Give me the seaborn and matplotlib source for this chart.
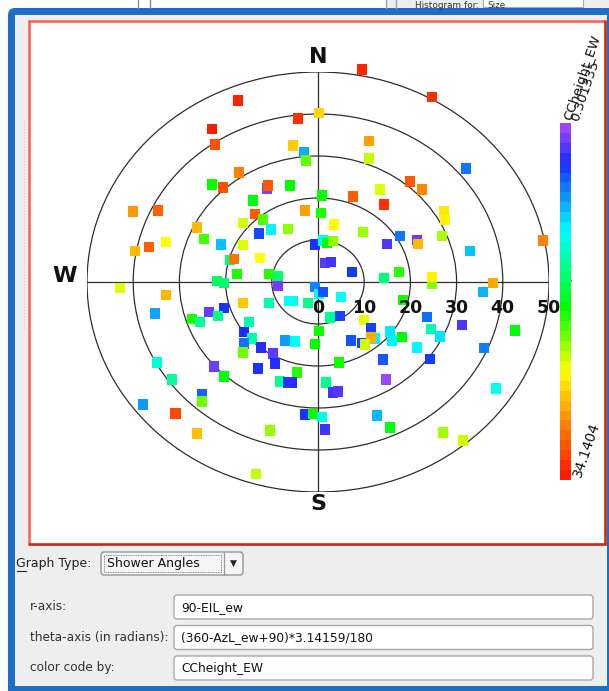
import numpy as np
import pandas as pd
import matplotlib
matplotlib.use("Agg")
import matplotlib.pyplot as plt
from matplotlib.colors import LinearSegmentedColormap, Normalize
from matplotlib.patches import Rectangle, FancyBboxPatch, Circle
from matplotlib.cm import ScalarMappable
import seaborn as sns

# Shower arrival directions: elevation, azimuth (deg) and core height
EIL_ew = [
    43.4, 47.0, 50.4, 58.8, 57.4, 59.5, 65.2, 64.6, 66.2, 66.0, 68.8, 68.5, 71.0, 72.8, 73.9, 75.8,
    46.6, 51.4, 60.8, 63.3, 67.2, 71.5, 49.7, 52.5, 55.7, 70.2, 71.0, 76.2, 72.4, 79.2, 81.2, 68.1,
    69.6, 38.5, 39.5, 50.8, 49.8, 57.0, 59.0, 60.9, 54.7, 58.6, 48.1, 69.4, 68.3, 58.9, 58.5, 64.2,
    66.7, 72.8, 73.5, 58.0, 58.8, 75.9, 74.6, 69.1, 66.3, 66.5, 61.0, 81.1, 80.1, 80.5, 79.7, 72.5,
    56.3, 40.3, 85.2, 84.5, 82.3, 75.7, 72.3, 65.3, 65.3, 52.1, 54.2, 88.6, 87.1, 87.4, 83.9, 71.1,
    82.9, 84.5, 81.2, 80.6, 76.5, 74.1, 72.6, 71.8, 72.5, 72.0, 74.4, 70.5, 68.7, 67.6, 65.0, 63.1,
    60.6, 57.2, 45.8, 50.8, 63.5, 59.6, 66.8, 78.3, 75.2, 75.0, 70.3, 68.0, 65.4, 66.0, 63.5, 63.6,
    62.5, 43.9, 58.3, 58.6, 57.9, 54.8, 55.7, 52.0, 45.1, 40.9, 47.1, 57.0, 53.9, 81.3, 73.0, 78.3,
    82.2, 68.7, 65.3, 66.9, 61.3, 62.7, 72.3, 70.0, 70.4, 68.3, 66.7, 70.1, 70.4, 68.5, 65.7, 74.4,
    64.9, 65.2, 50.2, 50.8, 59.8, 59.7, 53.3, 52.0, 42.2, 46.0, 45.4, 53.1, 42.4,
]
AzL_ew = [
    338.2, 327.8, 325.8, 326.7, 315.3, 317.6, 333.6, 334.8, 345.2, 324.0, 320.0, 311.0, 321.3, 312.0, 320.7, 332.9,
    292.7, 296.1, 296.3, 292.6, 292.9, 298.6, 280.6, 282.9, 286.2, 285.4, 286.8, 294.6, 276.2, 280.2, 279.4, 270.6,
    269.3, 10.6, 29.3, 353.7, 0.3, 350.6, 354.4, 354.9, 18.2, 20.6, 49.8, 2.4, 20.4, 39.8, 45.6, 31.4,
    37.8, 350.6, 2.3, 58.4, 61.7, 14.2, 39.2, 58.2, 64.9, 67.2, 67.7, 355.8, 6.3, 11.8, 18.3, 58.7,
    77.3, 78.6, 18.5, 30.5, 72.0, 86.2, 82.2, 91.1, 87.2, 90.4, 93.8, 208.4, 175.6, 155.7, 125.8, 103.2,
    229.9, 203.3, 162.7, 149.7, 132.4, 133.8, 146.9, 137.4, 138.9, 145.6, 152.8, 127.0, 131.4, 125.9, 109.5, 114.7,
    116.1, 108.3, 105.1, 113.7, 126.0, 127.2, 142.6, 178.9, 182.5, 199.4, 166.6, 191.9, 193.2, 175.9, 173.0, 170.6,
    147.6, 123.4, 185.1, 182.0, 178.4, 177.5, 158.1, 155.8, 143.0, 140.3, 268.1, 264.6, 258.1, 263.7, 252.8, 244.7,
    234.1, 253.0, 253.1, 249.4, 252.0, 249.5, 237.4, 233.3, 226.8, 227.7, 224.1, 218.4, 209.8, 205.7, 212.3, 207.2,
    199.2, 195.2, 241.2, 233.7, 228.2, 222.1, 223.1, 221.4, 232.4, 224.6, 215.9, 196.4, 196.4,
]
CCheight_EW = [
    33.8, 34.1404, 31.6, 29.3, 17.9, 31.4, 1.2, 31.2, 18.0, 17.6, 31.0, 23.0, 19.8, 4.6, 10.2, 21.2,
    28.2, 30.8, 27.0, 19.6, 8.4, 23.2, 26.8, 30.9, 24.2, 14.5, 29.8, 24.0, 18.5, 18.8, 14.8, 15.2,
    14.6, 33.6, 33.2, 33.0, 25.8, 26.2, 7.8, 20.2, 27.8, 22.6, 6.0, 18.1, 30.9, 31.2, 28.9, 23.1,
    33.0, 27.9, 18.6, 24.9, 24.4, 24.1, 21.6, 6.1, 1.5, 27.0, 21.9, 4.0, 11.0, 17.8, 21.3, 2.3,
    8.6, 29.2, 2.1, 2.6, 4.1, 14.2, 18.9, 21.0, 24.5, 27.5, 8.1, 6.4, 10.8, 4.8, 10.4, 18.3,
    11.4, 13.8, 13.6, 4.5, 23.4, 4.3, 4.4, 10.1, 27.3, 22.8, 5.0, 9.8, 10.0, 18.0, 5.8, 12.8,
    9.6, 2.4, 17.7, 6.3, 10.3, 4.2, 5.1, 18.2, 17.9, 10.6, 18.4, 18.7, 3.7, 13.9, 2.6, 2.2,
    0.301335, 10.9, 3.9, 18.1, 11.2, 2.7, 8.2, 17.6, 21.8, 22.9, 23.3, 26.9, 7.6, 1.4, 26.3, 13.1,
    10.7, 4.0, 1.7, 14.1, 18.6, 13.5, 13.0, 3.8, 12.9, 5.9, 20.6, 3.6, 1.9, 3.5, 3.9, 7.4,
    13.4, 3.3, 11.6, 13.3, 1.6, 17.5, 5.5, 20.4, 7.2, 32.0, 26.6, 21.4, 22.4,
]

ring_radii = [10, 20, 30, 40, 50]
ring_labels = [0, 10, 20, 30, 40, 50]
compass_labels = ["N", "E", "S", "W"]

field_labels = ["r-axis:", "theta-axis (in radians):", "color code by:"]
field_values = ["90-EIL_ew", "(360-AzL_ew+90)*3.14159/180", "CCheight_EW"]
graph_type = "Shower Angles"

W, H = 609, 691
fig = plt.figure(figsize=(W / 100, H / 100), dpi=100)
fig.patch.set_facecolor("white")


def frac(left, top, w, h):
    return [left / W, 1 - (top + h) / H, w / W, h / H]


# ---- window chrome, drawn in pixel coordinates ----
bg = fig.add_axes([0, 0, 1, 1])
bg.set_xlim(0, W)
bg.set_ylim(H, 0)
bg.axis("off")

# partially visible panel above the window
bg.plot([138, 138], [0, 8], color="#8a8a8a", lw=1)
bg.plot([150, 150], [0, 8], color="#8a8a8a", lw=1)
bg.add_patch(Rectangle((386, 0), 223, 8, fc="#eeeeee", ec="none"))
bg.plot([386, 386], [0, 8], color="#a0a0a0", lw=1)
bg.plot([396, 396], [0, 8], color="#a0a0a0", lw=1)
bg.text(415, 7.5, "Histogram for:", fontsize=6.4, color="#333333", va="baseline")
bg.add_patch(Rectangle((483, -2), 100, 9, fc="white", ec="#a8a8a8", lw=0.8))
bg.text(487, 7.5, "Size", fontsize=6.4, color="#333333", va="baseline")

# blue window frame with grey client area
bg.add_patch(FancyBboxPatch((8, 8), 620, 700, boxstyle="round,pad=0,rounding_size=7",
                            fc="#1c6fc4", ec="none"))
bg.add_patch(Rectangle((15, 15), 592, 671, fc="#eeeeee", ec="none"))

# plot panel with red bevel border
bg.add_patch(Rectangle((28, 20), 577, 524, fc="white", ec="none"))
bg.plot([28, 605], [21.2, 21.2], color="#ff5a4a", lw=1.8, solid_capstyle="butt")
bg.plot([29.2, 29.2], [20, 544], color="#ff5a4a", lw=1.8, solid_capstyle="butt")
bg.plot([28, 605.5], [543.5, 543.5], color="#cc2a10", lw=1.9, solid_capstyle="butt")
bg.plot([604.5, 604.5], [20, 544.5], color="#cc2a10", lw=1.9, solid_capstyle="butt")

# splitter grip
bg.plot([24, 24], [120, 330], color="#c0c0c0", lw=0.7, ls=(0, (1, 2)))

# graph type combo box
bg.text(16, 563, "Graph Type:", fontsize=9, color="#222222", va="center")
bg.plot([16.5, 25.5], [570.5, 570.5], color="#222222", lw=0.8)
bg.add_patch(FancyBboxPatch((101, 552), 142, 23, boxstyle="round,pad=0,rounding_size=3",
                            fc="#f5f5f5", ec="#8c8c8c", lw=0.9))
bg.add_patch(Rectangle((104, 555), 117, 17, fc="none", ec="#666666", lw=0.6, ls=(0, (1, 1))))
bg.plot([224, 224], [552, 575], color="#9a9a9a", lw=0.9)
bg.text(107, 563.5, graph_type, fontsize=9, color="#111111", va="center")
bg.text(233.5, 563.5, "\u25BC", fontsize=6.5, color="#222222", ha="center", va="center")

# expression fields
for i, (lab, val) in enumerate(zip(field_labels, field_values)):
    top = 595 + i * 30.5
    bg.text(30, top + 12, lab, fontsize=8.7, color="#333333", va="center")
    bg.add_patch(FancyBboxPatch((174, top), 419, 24, boxstyle="round,pad=0,rounding_size=3",
                                fc="white", ec="#a8a8a8", lw=1))
    bg.text(181, top + 12.5, val, fontsize=8.8, color="#111111", va="center")

# ---- shower-angle plot ----
df = pd.DataFrame({"EIL_ew": EIL_ew, "AzL_ew": AzL_ew, "CCheight_EW": CCheight_EW})
r = 90 - df["EIL_ew"]
theta = np.deg2rad(360 - df["AzL_ew"] + 90)
df["x"] = r * np.cos(theta)
df["y"] = r * np.sin(theta)

cmap = LinearSegmentedColormap.from_list("ccheight", [
    (0.00, "#9a45ff"),
    (0.10, "#1a2cff"),
    (0.30, "#00ffff"),
    (0.52, "#00ff00"),
    (0.70, "#ffff00"),
    (0.84, "#ff8c00"),
    (1.00, "#ff1a00"),
])
vmin, vmax = df["CCheight_EW"].min(), df["CCheight_EW"].max()
norm = Normalize(vmin, vmax)

ax = fig.add_axes(frac(87, 72, 462, 420))
ax.set_xlim(-50, 50)
ax.set_ylim(-50, 50)
ax.axis("off")

for rr in ring_radii:
    ax.add_patch(Circle((0, 0), rr, fill=False, ec="#2e2e2e", lw=0.9, zorder=1))
ax.plot([-50, 50], [0, 0], color="#2e2e2e", lw=0.9, zorder=1)
ax.plot([0, 0], [-50, 50], color="#2e2e2e", lw=0.9, zorder=1)

sns.scatterplot(data=df, x="x", y="y", hue="CCheight_EW", palette=cmap, hue_norm=norm,
                marker="s", s=57, linewidth=0, legend=False, ax=ax, clip_on=False, zorder=3)
ax.set_xlim(-50, 50)
ax.set_ylim(-50, 50)
ax.axis("off")

for v in ring_labels:
    ax.text(v, -6.2, str(v), ha="center", va="center", fontsize=12.5, fontweight="bold",
            color="#111111", zorder=4)

compass_pos = {"N": (0, 53.5), "E": (53.6, 1.4), "S": (0, -52.8), "W": (-54.8, 1.4)}
for lab in compass_labels:
    px, py = compass_pos[lab]
    ax.text(px, py, lab, ha="center", va="center", fontsize=16, fontweight="bold",
            color="#111111", zorder=4)

# ---- colour bar ----
cax = fig.add_axes(frac(560, 123, 11, 357))
cb = fig.colorbar(ScalarMappable(norm=norm, cmap=cmap.resampled(36)), cax=cax)
cax.invert_yaxis()
cb.set_ticks([])
cb.outline.set_visible(False)

bg.text(571, 121, "CCheight_EW", rotation=71, rotation_mode="anchor", ha="left",
        va="baseline", fontsize=9.5, color="#111111", zorder=10)
bg.text(578, 122, f"{vmin:g}", rotation=71, rotation_mode="anchor", ha="left",
        va="baseline", fontsize=9.5, color="#111111", zorder=10)
bg.text(581, 478, f"{vmax:g}", rotation=71, rotation_mode="anchor", ha="left",
        va="baseline", fontsize=10, color="#111111", zorder=10)

fig.savefig("out.png", dpi=100, facecolor=fig.get_facecolor())
